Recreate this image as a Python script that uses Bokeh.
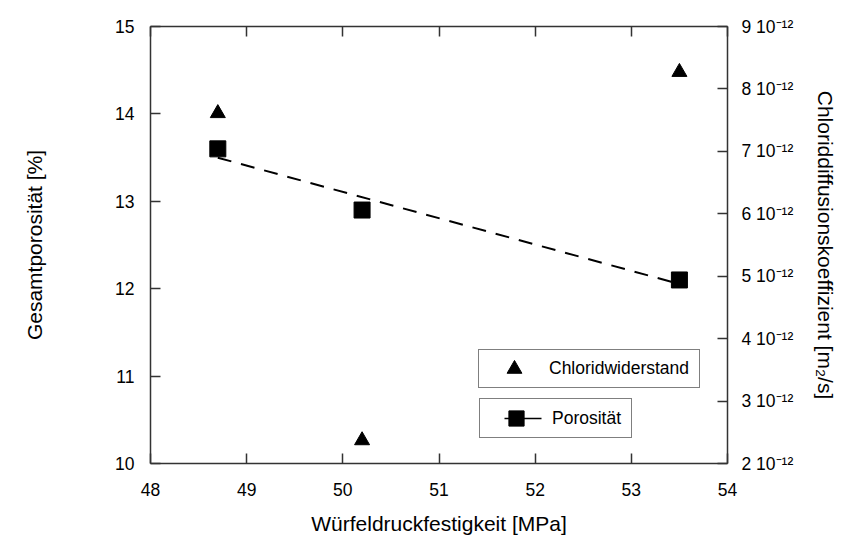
import numpy as np
from bokeh.plotting import figure
from bokeh.models import (Range1d, LinearAxis, FixedTicker, CustomJSTickFormatter,
                          Legend, LegendItem)
from bokeh.embed import file_html
from bokeh.resources import INLINE

# ---- data ----
festigkeit = [48.7, 50.2, 53.5]            # Würfeldruckfestigkeit [MPa]
porositaet = [13.6, 12.9, 12.1]            # Gesamtporosität [%]
chlorid = [7.61e-12, 2.37e-12, 8.27e-12]   # Chloriddiffusionskoeffizient [m2/s]

x_ticks = [48, 49, 50, 51, 52, 53, 54]
y_ticks = [10, 11, 12, 13, 14, 15]
y2_ticks = [2e-12, 3e-12, 4e-12, 5e-12, 6e-12, 7e-12, 8e-12, 9e-12]

# linear regression of porosity (dashed line)
slope, intercept = np.polyfit(festigkeit, porositaet, 1)
fit_x = [min(festigkeit), max(festigkeit)]
fit_y = [slope * v + intercept for v in fit_x]

FONT = "Liberation Sans"
TICK_FS = "17.5px"
TITLE_FS = "21px"
LEG_FS = "17.5px"
AX = "#333333"

p = figure(width=840, height=537, output_backend="svg", toolbar_location=None,
           x_range=Range1d(48, 54), y_range=Range1d(10, 15),
           min_border_left=150, min_border_right=113, min_border_top=26,
           min_border_bottom=73)
p.extra_y_ranges = {"chl": Range1d(2e-12, 9e-12)}
p.xgrid.visible = False
p.ygrid.visible = False
p.outline_line_color = None
p.background_fill_color = "white"
p.border_fill_color = "white"


def style(ax):
    ax.axis_line_color = AX
    ax.axis_line_width = 1.5
    ax.major_tick_line_color = AX
    ax.major_tick_line_width = 1.5
    ax.major_tick_in = 10
    ax.major_tick_out = 0
    ax.minor_tick_line_color = None
    ax.major_label_text_font = FONT
    ax.major_label_text_font_size = TICK_FS
    ax.major_label_text_color = "black"
    ax.axis_label_text_font = FONT
    ax.axis_label_text_font_size = TITLE_FS
    ax.axis_label_text_font_style = "normal"
    ax.axis_label_text_color = "black"


xa = p.xaxis[0]
style(xa)
xa.ticker = FixedTicker(ticks=x_ticks)
xa.axis_label = "Würfeldruckfestigkeit [MPa]"
xa.major_label_standoff = 19
xa.axis_label_standoff = 13

ya = p.yaxis[0]
style(ya)
ya.ticker = FixedTicker(ticks=y_ticks)
ya.axis_label = "Gesamtporosität [%]"
ya.major_label_standoff = 16
ya.axis_label_standoff = 66

top = LinearAxis(ticker=FixedTicker(ticks=x_ticks),
                 formatter=CustomJSTickFormatter(code="return ''"))
style(top)
top.major_label_text_font_size = "0px"
top.major_label_standoff = 0
p.add_layout(top, "above")

ra = LinearAxis(y_range_name="chl", ticker=FixedTicker(ticks=y2_ticks),
                formatter=CustomJSTickFormatter(
                    code="return (tick*1e12).toFixed(0) + ' 10\u207b\u00b9\u00b2'"))
style(ra)
ra.axis_label = "Chloriddiffusionskoeffizient [m\u2082/s]"
ra.major_label_standoff = 14
ra.axis_label_standoff = 18
p.add_layout(ra, "right")

# ---- glyphs ----
line_r = p.line(fit_x, fit_y, line_color="black", line_width=2, line_dash="14 10")
sq_r = p.scatter(festigkeit, porositaet, marker="square", size=16,
                 fill_color="black", line_color="black")
tri_r = p.scatter(festigkeit, chlorid, y_range_name="chl", marker="triangle",
                  size=15, fill_color="black", line_color="black")

# legend-only short solid segment for the "Porosität" entry (nothing drawn in the plot)
leg_line = p.line(x=[np.nan], y=[np.nan], line_color="black", line_width=1.5,
                  line_dash="37 100", line_dash_offset=113)


def leg_style(lg):
    lg.border_line_color = "black"
    lg.border_line_width = 1.5
    lg.background_fill_color = "white"
    lg.background_fill_alpha = 1
    lg.label_text_font = FONT
    lg.label_text_font_size = LEG_FS
    lg.label_text_color = "black"
    lg.padding = 0
    lg.margin = 0
    lg.spacing = 0


leg1 = Legend(items=[LegendItem(label="Chloridwiderstand", renderers=[tri_r])],
              location=(328, 75))
leg_style(leg1)
leg1.glyph_height = 37
leg1.glyph_width = 70
leg1.label_standoff = 0
leg1.label_width = 150
leg1.label_height = 20
p.add_layout(leg1)

leg2 = Legend(items=[LegendItem(label="Porosität", renderers=[leg_line, sq_r])],
              location=(329, 25))
leg_style(leg2)
leg2.glyph_height = 38
leg2.glyph_width = 72
leg2.label_standoff = 0
leg2.label_width = 79
leg2.label_height = 20
p.add_layout(leg2)

open("out.html", "w").write(file_html(p, INLINE))
